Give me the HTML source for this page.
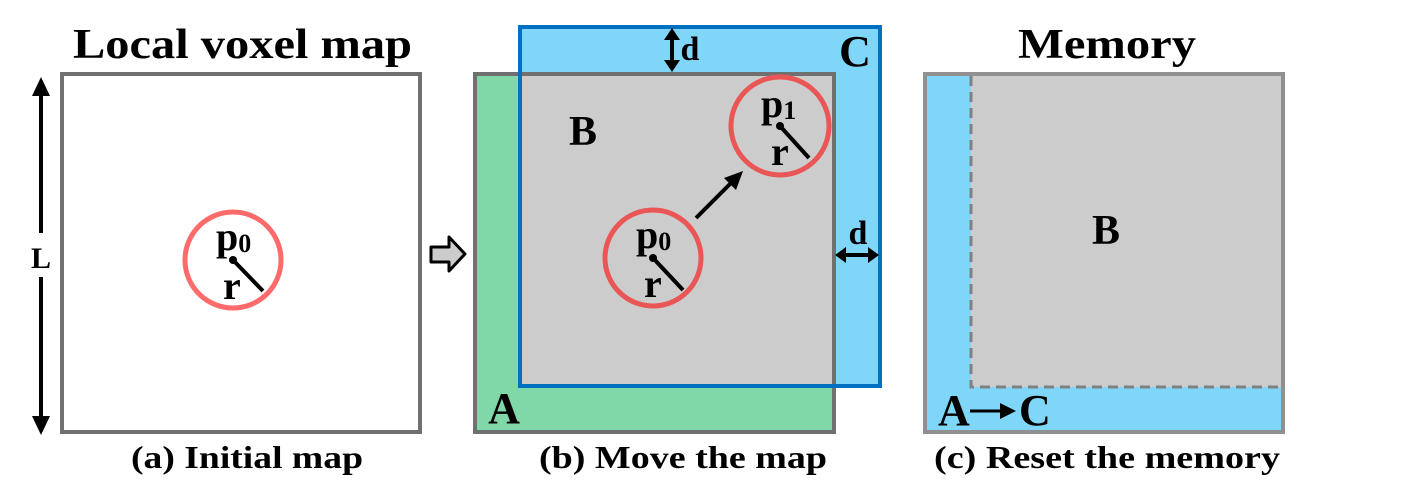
<!DOCTYPE html>
<html><head><meta charset="utf-8"><style>body{margin:0;background:#fff}svg{display:block}</style></head>
<body>
<svg width="1404" height="498" viewBox="0 0 1404 498" xmlns="http://www.w3.org/2000/svg" font-family="'Liberation Serif', serif" font-weight="bold">
<!-- titles -->
<text x="73" y="58" font-size="42" textLength="339" lengthAdjust="spacingAndGlyphs">Local voxel map</text>
<text x="1018" y="58" font-size="42" textLength="178" lengthAdjust="spacingAndGlyphs">Memory</text>
<!-- left panel -->
<rect x="62" y="74" width="358" height="358" fill="#fff" stroke="#707070" stroke-width="4"/>
<line x1="41" y1="90" x2="41" y2="233" stroke="#000" stroke-width="4"/>
<path d="M32,96 L41,77 L50,96 Z" fill="#000"/>
<line x1="41" y1="277" x2="41" y2="420" stroke="#000" stroke-width="4"/>
<path d="M32,416 L41,435 L50,416 Z" fill="#000"/>
<text x="41" y="268" font-size="30" text-anchor="middle">L</text>
<circle cx="233" cy="260" r="48" fill="none" stroke="#ff6b6b" stroke-width="5"/>
<line x1="233" y1="260" x2="263" y2="291" stroke="#000" stroke-width="4"/>
<circle cx="233" cy="260" r="4" fill="#000"/>
<text x="216" y="250" font-size="40">p<tspan font-size="26" dy="2">0</tspan></text>
<text x="223" y="299" font-size="40">r</text>
<!-- hollow arrow -->
<path d="M431,247 L449,247 L449,237 L465,254 L449,271 L449,262 L431,262 Z" fill="#ccc" stroke="#000" stroke-width="3" stroke-linejoin="round"/>
<!-- middle panel -->
<rect x="475" y="74" width="359" height="358" fill="#80d8a8"/>
<rect x="520" y="27" width="360" height="359" fill="#80d6f8"/>
<rect x="520" y="74" width="314" height="312" fill="#cccccc"/>
<rect x="475" y="74" width="359" height="358" fill="none" stroke="#707070" stroke-width="4"/>
<rect x="520" y="27" width="360" height="359" fill="none" stroke="#0070c0" stroke-width="4"/>
<circle cx="780" cy="126" r="49" fill="none" stroke="#ea5555" stroke-width="5"/>
<line x1="780" y1="126" x2="809" y2="158" stroke="#000" stroke-width="4"/>
<circle cx="780" cy="126" r="4" fill="#000"/>
<text x="761" y="117" font-size="40">p<tspan font-size="26" dy="2">1</tspan></text>
<text x="771" y="165" font-size="40">r</text>
<circle cx="653" cy="258" r="48" fill="none" stroke="#ea5555" stroke-width="5"/>
<line x1="653" y1="258" x2="683" y2="290" stroke="#000" stroke-width="4"/>
<circle cx="653" cy="258" r="4" fill="#000"/>
<text x="636" y="248" font-size="40">p<tspan font-size="26" dy="2">0</tspan></text>
<text x="644" y="297" font-size="40">r</text>
<line x1="696" y1="218" x2="732" y2="182" stroke="#000" stroke-width="4"/>
<path d="M724,178 L743,171 L736,190 Z" fill="#000"/>
<text x="583" y="145" font-size="42" text-anchor="middle">B</text>
<text x="504" y="423" font-size="44" text-anchor="middle">A</text>
<text x="855" y="66" font-size="44" text-anchor="middle">C</text>
<line x1="672" y1="36" x2="672" y2="64" stroke="#000" stroke-width="4"/>
<path d="M664,40 L672,28 L680,40 Z M664,60 L672,72 L680,60 Z" fill="#000"/>
<text x="690" y="60" font-size="34" text-anchor="middle">d</text>
<line x1="842" y1="255" x2="872" y2="255" stroke="#000" stroke-width="4"/>
<path d="M846,247 L835,255 L846,263 Z M868,247 L879,255 L868,263 Z" fill="#000"/>
<text x="858" y="244" font-size="34" text-anchor="middle">d</text>
<!-- right panel -->
<rect x="925" y="74" width="358" height="358" fill="#80d6f8"/>
<rect x="971" y="74" width="312" height="313" fill="#cccccc"/>
<path d="M971,76 L971,387 L1282,387" fill="none" stroke="#808080" stroke-width="3" stroke-dasharray="10,6"/>
<rect x="925" y="74" width="358" height="358" fill="none" stroke="#909090" stroke-width="4"/>
<text x="1106" y="244" font-size="42" text-anchor="middle">B</text>
<text x="938" y="425" font-size="44">A</text>
<line x1="970" y1="411" x2="1008" y2="411" stroke="#000" stroke-width="3"/>
<path d="M1000,403 L1016,411 L1000,419 Z" fill="#000"/>
<text x="1019" y="425" font-size="44">C</text>
<!-- captions -->
<text x="131" y="468" font-size="32" textLength="232" lengthAdjust="spacingAndGlyphs">(a) Initial map</text>
<text x="539" y="468" font-size="32" textLength="288" lengthAdjust="spacingAndGlyphs">(b) Move the map</text>
<text x="934" y="468" font-size="32" textLength="346" lengthAdjust="spacingAndGlyphs">(c) Reset the memory</text>
</svg>
</body></html>
